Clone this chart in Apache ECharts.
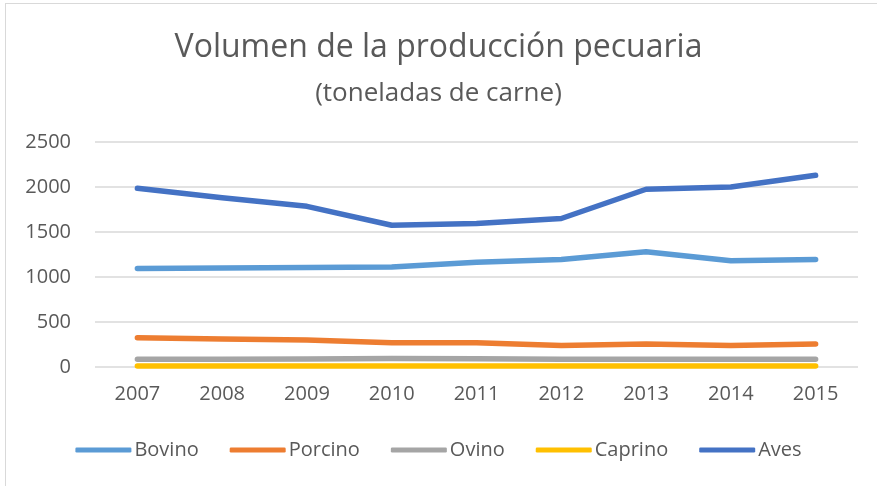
<!DOCTYPE html>
<html>
<head>
<meta charset="utf-8">
<script src="https://cdn.jsdelivr.net/npm/echarts@6/dist/echarts.min.js"></script>
<style>
  html, body { margin: 0; padding: 0; background: #fff; }
  #frame { position: absolute; left: 5px; top: 3px; width: 900px; height: 520px; border: 1.5px solid #d9d9d9; }
  #echart { position: absolute; left: 0; top: 0; width: 877px; height: 486px; }
</style>
</head>
<body>
<div id="frame"></div>
<div id="echart"></div>
<script>
const years = ['2007', '2008', '2009', '2010', '2011', '2012', '2013', '2014', '2015'];
const bovino = [1095, 1100, 1105, 1110, 1165, 1195, 1280, 1180, 1195];
const porcino = [325, 310, 300, 270, 270, 240, 255, 240, 255];
const ovino = [85, 85, 88, 95, 92, 85, 85, 85, 85];
const caprino = [12, 12, 12, 12, 12, 12, 12, 12, 12];
const aves = [1985, 1880, 1785, 1575, 1595, 1650, 1975, 2000, 2130];

const font = '"Open Sans", "Noto Sans", sans-serif';
const textColor = '#595959';

const myChart = echarts.init(document.getElementById('echart'));

const line = (name, data, color) => ({
  name: name,
  type: 'line',
  data: data,
  symbol: 'none',
  color: color,
  lineStyle: { width: 5.5, color: color, cap: 'round', join: 'round' },
});

myChart.setOption({
  animation: false,
  title: [
    {
      text: 'Volumen de la producción pecuaria',
      left: 'center',
      top: 27,
      textStyle: { fontFamily: font, fontSize: 32, fontWeight: 'normal', color: textColor },
    },
    {
      text: '(toneladas de carne)',
      left: 'center',
      top: 76,
      textStyle: { fontFamily: font, fontSize: 26, fontWeight: 'normal', color: textColor },
    },
  ],
  grid: { left: 95, right: 19, top: 142, bottom: 119 },
  legend: {
    bottom: 21,
    left: 'center',
    itemWidth: 56,
    itemHeight: 5,
    itemGap: 31,
    icon: 'roundRect',
    textStyle: { fontFamily: font, fontSize: 20, color: textColor, padding: [0, 0, 0, -2] },
    data: ['Bovino', 'Porcino', 'Ovino', 'Caprino', 'Aves'],
  },
  xAxis: {
    type: 'category',
    data: years,
    boundaryGap: true,
    axisLine: { show: false },
    axisTick: { show: false },
    axisLabel: { fontFamily: font, fontSize: 20, color: textColor, margin: 17 },
  },
  yAxis: {
    type: 'value',
    min: 0,
    max: 2500,
    interval: 500,
    axisLabel: { fontFamily: font, fontSize: 20, color: textColor, margin: 24, formatter: (v) => String(v) },
    splitLine: { lineStyle: { color: '#d9d9d9', width: 1.5 } },
  },
  series: [
    line('Bovino', bovino, '#5b9bd5'),
    line('Porcino', porcino, '#ed7d31'),
    line('Ovino', ovino, '#a5a5a5'),
    line('Caprino', caprino, '#ffc000'),
    line('Aves', aves, '#4472c4'),
  ],
});
</script>
</body>
</html>
